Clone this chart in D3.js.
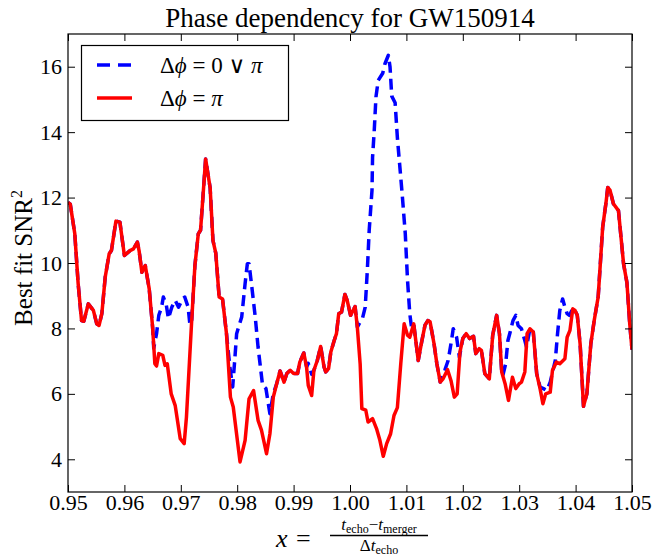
<!DOCTYPE html>
<html><head><meta charset="utf-8">
<script src="https://cdn.jsdelivr.net/npm/d3@7"></script>
<style>body{margin:0;background:#fff}svg{display:block}text{font-family:"Liberation Serif","DejaVu Serif",serif;fill:#000}</style>
</head><body><svg id="c" width="653" height="556"></svg>
<script>
const title = "Phase dependency for GW150914";
const xTicks = [0.95,0.96,0.97,0.98,0.99,1.00,1.01,1.02,1.03,1.04,1.05];
const yTicks = [4,6,8,10,12,14,16];
const seriesNames = ["\u0394\u03d5 = 0 \u2228 \u03c0", "\u0394\u03d5 = \u03c0"];

// Δφ = π (red, solid)
const redPoints = [
[0.9500,11.85],[0.9504,11.8],[0.9512,10.9],[0.9518,9.37],[0.9524,8.24],[0.9528,8.22],[0.9536,8.75],[0.9545,8.55],[0.9551,8.14],[0.9555,8.09],
[0.9560,8.45],[0.9566,9.57],[0.9573,10.28],[0.9577,10.38],[0.9585,11.28],[0.9592,11.25],[0.9600,10.23],[0.9610,10.38],[0.9616,10.43],[0.9623,10.64],
[0.9626,10.38],[0.9631,9.72],[0.9637,9.92],[0.9644,9.21],[0.9650,8.04],[0.9654,6.92],[0.9657,6.85],[0.9661,7.23],[0.9668,7.18],[0.9672,6.87],
[0.9676,6.92],[0.9683,6.0],[0.9690,5.65],[0.9699,4.63],[0.9706,4.48],[0.9710,5.29],[0.9719,8.14],[0.9725,9.92],[0.9731,10.89],[0.9735,11.0],
[0.9740,12.2],[0.9744,13.18],[0.9752,12.3],[0.9757,10.69],[0.9762,10.3],[0.9768,8.96],[0.9774,8.9],[0.9781,7.84],[0.9788,5.9],[0.9793,5.6],
[0.9805,3.92],[0.9814,4.58],[0.9821,5.85],[0.9829,6.1],[0.9837,5.19],[0.9843,4.89],[0.9852,4.17],[0.9858,4.78],[0.9864,5.9],[0.9870,6.31],
[0.9876,6.7],[0.9883,6.36],[0.9888,6.62],[0.9894,6.72],[0.9900,6.62],[0.9907,6.62],[0.9911,6.97],[0.9918,7.25],[0.9923,6.82],[0.9926,6.26],
[0.9932,5.95],[0.9936,6.72],[0.9942,7.02],[0.9948,7.45],[0.9954,6.82],[0.9957,6.67],[0.9962,6.77],[0.9966,7.28],[0.9972,7.63],[0.9976,7.84],
[0.9980,8.45],[0.9985,8.5],[0.9991,9.04],[0.9995,8.86],[1.0001,8.40],[1.0009,8.67],[1.0013,8.04],[1.0018,6.92],[1.0021,5.55],[1.0028,5.50],
[1.0032,5.14],[1.0040,5.24],[1.0047,4.94],[1.0053,4.58],[1.0059,4.09],[1.0065,4.48],[1.0072,4.78],[1.0078,5.34],[1.0084,5.58],[1.0090,6.92],
[1.0096,8.14],[1.0102,7.79],[1.0106,7.73],[1.0113,8.14],[1.0121,7.02],[1.0127,7.58],[1.0133,8.10],[1.0138,8.24],[1.0142,8.20],[1.0149,7.53],
[1.0154,6.92],[1.0160,6.36],[1.0165,6.46],[1.0173,6.74],[1.0179,6.41],[1.0185,5.9],[1.0190,6.0],[1.0195,7.28],[1.0200,7.69],[1.0206,7.84],
[1.0212,7.69],[1.0219,7.76],[1.0223,7.23],[1.0229,7.38],[1.0233,7.33],[1.0239,6.62],[1.0247,6.46],[1.0253,7.79],[1.0260,8.40],[1.0265,7.84],
[1.0269,6.67],[1.0275,6.31],[1.0281,5.8],[1.0288,6.51],[1.0294,6.16],[1.0300,6.31],[1.0304,6.36],[1.0310,6.67],[1.0314,7.84],[1.0319,7.99],
[1.0325,7.89],[1.0331,6.62],[1.0337,6.16],[1.0342,5.70],[1.0347,6.0],[1.0355,6.05],[1.0359,6.72],[1.0366,6.97],[1.0372,6.92],[1.0381,7.07],
[1.0385,7.73],[1.0390,7.94],[1.0395,8.6],[1.0399,8.55],[1.0403,8.40],[1.0408,7.53],[1.0414,5.62],[1.0420,6.0],[1.0427,7.53],[1.0433,8.24],
[1.0440,8.96],[1.0448,11.09],[1.0454,11.86],[1.0457,12.31],[1.0461,12.23],[1.0467,11.81],[1.0476,11.6],[1.0485,9.98],[1.0491,9.4],[1.0496,8.14],
[1.0500,7.35]
];

// Δφ = 0 ∨ π (blue, dashed)
const bluePoints = [
[0.9500,11.85],[0.9504,11.8],[0.9512,10.9],[0.9518,9.37],[0.9524,8.24],[0.9528,8.22],[0.9536,8.75],[0.9545,8.55],[0.9551,8.14],[0.9555,8.09],
[0.9560,8.45],[0.9566,9.57],[0.9573,10.28],[0.9577,10.38],[0.9585,11.28],[0.9592,11.25],[0.9600,10.23],[0.9610,10.38],[0.9616,10.43],[0.9623,10.64],
[0.9626,10.38],[0.9631,9.72],[0.9637,9.92],[0.9644,9.21],[0.9650,8.04],[0.9652,7.4],[0.9657,7.84],[0.9661,8.4],[0.9666,8.65],[0.9669,8.96],
[0.9674,8.75],[0.9678,8.30],[0.9684,8.65],[0.9690,8.86],[0.9696,8.65],[0.9703,8.90],[0.9707,8.96],[0.9713,8.65],[0.9716,8.14],[0.9719,8.14],
[0.9725,9.92],[0.9731,10.89],[0.9735,11.0],[0.9740,12.2],[0.9744,13.18],[0.9752,12.3],[0.9757,10.69],[0.9762,10.3],[0.9768,8.96],[0.9774,8.9],
[0.9781,7.84],[0.9787,6.82],[0.9792,6.21],[0.9796,7.12],[0.9799,7.84],[0.9808,8.35],[0.9814,9.37],[0.9818,9.98],[0.9821,9.98],[0.9826,9.26],
[0.9832,8.35],[0.9837,7.43],[0.9845,6.26],[0.9851,6.16],[0.9858,5.39],[0.9864,6.0],[0.9870,6.31],[0.9876,6.7],[0.9883,6.36],[0.9888,6.62],
[0.9894,6.72],[0.9900,6.62],[0.9907,6.62],[0.9911,6.97],[0.9918,7.25],[0.9923,6.82],[0.9926,6.93],[0.9932,6.6],[0.9936,6.72],[0.9942,7.02],
[0.9948,7.45],[0.9954,6.82],[0.9957,6.67],[0.9962,6.77],[0.9966,7.28],[0.9972,7.63],[0.9976,7.84],[0.9980,8.45],[0.9985,8.5],[0.9991,9.04],
[0.9995,8.86],[1.0001,8.40],[1.0009,8.67],[1.0013,8.04],[1.0018,8.2],[1.0022,8.3],[1.0027,8.65],[1.0031,9.87],[1.0034,10.99],[1.0039,12.22],
[1.0040,13.23],[1.0043,14.05],[1.0046,15.07],[1.0050,15.58],[1.0058,15.8],[1.0062,16.09],[1.0068,16.35],[1.0071,15.99],[1.0074,15.1],[1.0080,14.9],
[1.0084,13.83],[1.0089,12.82],[1.0093,12.0],[1.0098,10.9],[1.0102,9.47],[1.0106,8.45],[1.0109,8.04],[1.0113,8.14],[1.0121,7.02],[1.0127,7.58],
[1.0133,8.10],[1.0138,8.24],[1.0142,8.20],[1.0149,7.53],[1.0154,6.92],[1.0160,6.36],[1.0163,6.51],[1.0168,6.72],[1.0174,7.02],[1.0180,7.63],
[1.0183,7.99],[1.0189,7.73],[1.0194,7.12],[1.0200,7.69],[1.0206,7.84],[1.0212,7.69],[1.0219,7.76],[1.0223,7.23],[1.0229,7.38],[1.0233,7.33],
[1.0239,6.62],[1.0247,6.46],[1.0253,7.79],[1.0260,8.40],[1.0265,7.84],[1.0269,6.67],[1.0271,6.56],[1.0276,6.92],[1.0280,7.63],[1.0284,7.89],
[1.0289,8.24],[1.0294,8.40],[1.0298,8.09],[1.0304,7.99],[1.0310,7.63],[1.0313,7.43],[1.0319,7.99],[1.0325,7.89],[1.0331,6.62],[1.0337,6.21],
[1.0343,6.16],[1.0349,6.1],[1.0355,6.36],[1.0364,7.02],[1.0368,7.84],[1.0372,8.55],[1.0377,8.9],[1.0381,8.65],[1.0385,8.45],[1.0389,8.40],
[1.0395,8.6],[1.0399,8.55],[1.0403,8.40],[1.0408,7.53],[1.0414,5.62],[1.0420,6.0],[1.0427,7.53],[1.0433,8.24],[1.0440,8.96],[1.0448,11.09],
[1.0454,11.86],[1.0457,12.31],[1.0461,12.23],[1.0467,11.81],[1.0476,11.6],[1.0485,9.98],[1.0491,9.4],[1.0496,8.14],[1.0500,7.35]
];

(function(){
const M = {left: 68, right: 632, top: 34, bottom: 492};
const svg = d3.select("#c");
const x = d3.scaleLinear().domain([0.95, 1.05]).range([M.left, M.right]);
const y = d3.scaleLinear().domain([3, 17]).range([M.bottom, M.top]);

svg.append("defs").append("clipPath").attr("id","clip")
  .append("rect").attr("x",M.left).attr("y",M.top).attr("width",M.right-M.left).attr("height",M.bottom-M.top);

const line = d3.line().x(d => x(d[0])).y(d => y(d[1]));
const plot = svg.append("g").attr("clip-path","url(#clip)");
plot.append("path").datum(bluePoints).attr("d", line)
  .attr("fill","none").attr("stroke","#0000ff").attr("stroke-width",3.5)
  .attr("stroke-dasharray","11,6").attr("stroke-linejoin","round");
plot.append("path").datum(redPoints).attr("d", line)
  .attr("fill","none").attr("stroke","#ff0000").attr("stroke-width",3.5)
  .attr("stroke-linejoin","round");

const fmtX = d3.format(".2f");
const tickLen = 7;
const gBottom = svg.append("g").attr("transform",`translate(0,${M.bottom})`)
  .call(d3.axisBottom(x).tickValues(xTicks).tickSize(-tickLen).tickPadding(2).tickFormat(fmtX));
const gTop = svg.append("g").attr("transform",`translate(0,${M.top})`)
  .call(d3.axisTop(x).tickValues(xTicks).tickSize(-tickLen).tickFormat(""));
const gLeft = svg.append("g").attr("transform",`translate(${M.left},0)`)
  .call(d3.axisLeft(y).tickValues(yTicks).tickSize(-tickLen).tickPadding(6).tickFormat(d3.format("d")));
const gRight = svg.append("g").attr("transform",`translate(${M.right},0)`)
  .call(d3.axisRight(y).tickValues(yTicks).tickSize(-tickLen).tickFormat(""));
[gBottom, gTop, gLeft, gRight].forEach(g => {
  g.select(".domain").remove();
  g.selectAll(".tick line").attr("stroke","#000").attr("stroke-width",1);
  g.selectAll("text").attr("font-family",'"Liberation Serif",serif').attr("font-size",22).attr("fill","#000");
});
gBottom.selectAll("text").attr("dy","0.71em");
svg.append("rect").attr("x",M.left).attr("y",M.top).attr("width",M.right-M.left).attr("height",M.bottom-M.top)
  .attr("fill","none").attr("stroke","#000").attr("stroke-width",1.2);

svg.append("text").attr("x",(M.left+M.right)/2).attr("y",27).attr("text-anchor","middle")
  .attr("font-size",27).text(title);

const yl = svg.append("text").attr("transform","translate(32,258) rotate(-90)").attr("text-anchor","middle").attr("font-size",25);
yl.append("tspan").text("Best fit SNR");
yl.append("tspan").attr("font-size",16).attr("dy",-10).text("2");

const xl = svg.append("g");
xl.append("text").attr("x",276).attr("y",547).attr("font-size",26).attr("font-style","italic").text("x");
xl.append("text").attr("x",296).attr("y",547).attr("font-size",26).text("=");
const num = xl.append("text").attr("x",379).attr("y",530).attr("text-anchor","middle").attr("font-size",17);
num.append("tspan").attr("font-style","italic").text("t");
num.append("tspan").attr("font-size",12).attr("dy",3).text("echo");
num.append("tspan").attr("dy",-3).text("\u2212");
num.append("tspan").attr("font-style","italic").text("t");
num.append("tspan").attr("font-size",12).attr("dy",3).text("merger");
xl.append("line").attr("x1",330).attr("x2",428).attr("y1",535.5).attr("y2",535.5).attr("stroke","#000").attr("stroke-width",1.6);
const den = xl.append("text").attr("x",379).attr("y",551).attr("text-anchor","middle").attr("font-size",17);
den.append("tspan").text("\u0394");
den.append("tspan").attr("font-style","italic").text("t");
den.append("tspan").attr("font-size",12).attr("dy",3).text("echo");

const lg = svg.append("g");
lg.append("rect").attr("x",81.5).attr("y",45.5).attr("width",207).attr("height",75)
  .attr("fill","#fff").attr("stroke","#000").attr("stroke-width",1.2);
const legItems = [
  {color:"#0000ff", dash:"13,8", yy:65},
  {color:"#ff0000", dash:null, yy:98}
];
legItems.forEach(it => {
  lg.append("line").attr("x1",97).attr("x2",132).attr("y1",it.yy).attr("y2",it.yy)
    .attr("stroke",it.color).attr("stroke-width",3.5).attr("stroke-dasharray",it.dash);
});
function legText(yy, parts){
  const t = lg.append("text").attr("x",160).attr("y",yy).attr("font-size",23);
  parts.forEach(p => t.append("tspan").attr("font-style",p[1]?"italic":"normal").text(p[0]));
}
legText(73, [["\u0394",0],["\u03d5",1],[" = 0 \u2228 ",0],["\u03c0",1]]);
legText(106, [["\u0394",0],["\u03d5",1],[" = ",0],["\u03c0",1]]);
})();
</script></body></html>
